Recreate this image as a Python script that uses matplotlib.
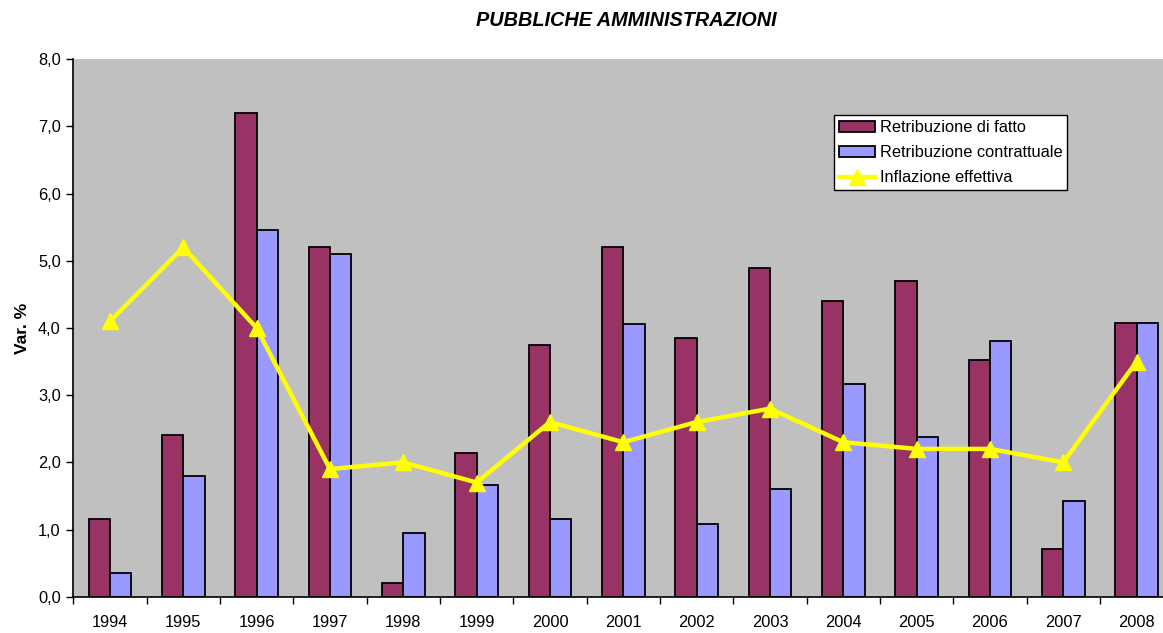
import matplotlib
matplotlib.use("Agg")
import matplotlib.pyplot as plt
import numpy as np
from matplotlib.ticker import FuncFormatter, FixedLocator

plt.rcParams['font.family'] = ['Liberation Sans', 'DejaVu Sans']

years = ['1994', '1995', '1996', '1997', '1998', '1999', '2000', '2001',
         '2002', '2003', '2004', '2005', '2006', '2007', '2008']
retribuzione_fatto = [1.15, 2.41, 7.2, 5.2, 0.2, 2.14, 3.74, 5.21,
                      3.85, 4.9, 4.4, 4.7, 3.52, 0.71, 4.07]
retribuzione_contrattuale = [0.35, 1.79, 5.46, 5.1, 0.95, 1.67, 1.16, 4.06,
                             1.08, 1.6, 3.16, 2.37, 3.8, 1.43, 4.07]
inflazione = [4.1, 5.2, 4.0, 1.9, 2.0, 1.7, 2.6, 2.3,
              2.6, 2.8, 2.3, 2.2, 2.2, 2.0, 3.5]

fig = plt.figure(figsize=(11.63, 6.33), dpi=100)
ax = fig.add_axes([73.3/1163, 36.3/633, 1100/1163, 537.4/633])
ax.set_facecolor('#C0C0C0')

x = np.arange(len(years))
w = 0.29
b1 = ax.bar(x - w/2, retribuzione_fatto, width=w, color='#993366', edgecolor='black',
            linewidth=1.3, label='Retribuzione di fatto', zorder=2)
b2 = ax.bar(x + w/2, retribuzione_contrattuale, width=w, color='#9999FF', edgecolor='black',
            linewidth=1.3, label='Retribuzione contrattuale', zorder=2)
l1, = ax.plot(x, inflazione, color='#FFFF00', linewidth=3.2, marker='^', markersize=12,
              label='Inflazione effettiva', zorder=3)

ax.set_xlim(-0.5, len(years) - 0.5)
ax.set_ylim(0, 8)
ax.set_yticks(np.arange(0, 8.01, 1.0))
ax.yaxis.set_major_formatter(FuncFormatter(lambda v, p: f"{v:.1f}".replace('.', ',')))
ax.set_xticks(x)
ax.set_xticklabels(years)
ax.xaxis.set_minor_locator(FixedLocator(np.arange(-0.5, len(years), 1.0)))
ax.tick_params(axis='x', which='major', length=0, pad=13, labelsize=11.8)
ax.tick_params(axis='x', which='minor', length=5, width=1, direction='out')
ax.tick_params(axis='y', length=5, width=1, direction='out', labelsize=11.8, pad=4)

for s in ['top', 'right']:
    ax.spines[s].set_visible(False)
for s in ['left', 'bottom']:
    ax.spines[s].set_linewidth(1.2)
    ax.spines[s].set_color('black')

ax.set_ylabel('Var. %', fontsize=12.5, fontweight='bold', labelpad=6)
fig.text(626.5/1163, 1 - 20/633, 'PUBBLICHE AMMINISTRAZIONI', ha='center', va='center',
         fontsize=14.3, fontweight='bold', fontstyle='italic')

leg = ax.legend([b1, b2, l1],
                ['Retribuzione di fatto', 'Retribuzione contrattuale', 'Inflazione effettiva'],
                loc='upper left', bbox_to_anchor=(0.692, 0.896), fontsize=11.8,
                frameon=True, fancybox=False, framealpha=1, edgecolor='black',
                borderaxespad=0, borderpad=0.3, labelspacing=0.62,
                handlelength=2.2, handletextpad=0.25)
leg.get_frame().set_linewidth(1.0)

fig.savefig('out.png', dpi=100)
